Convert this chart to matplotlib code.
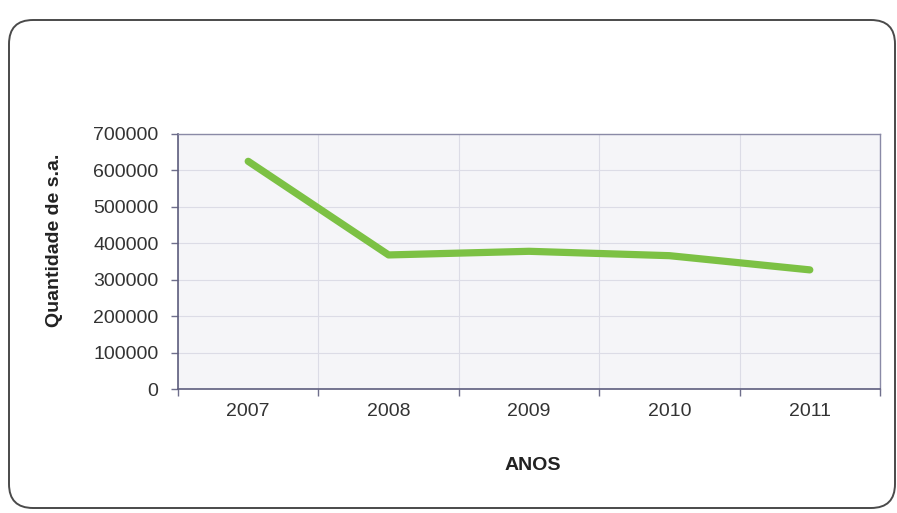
import matplotlib
matplotlib.use("Agg")
import matplotlib.pyplot as plt
import matplotlib.patches as mpatches
from matplotlib.transforms import IdentityTransform

# ── Dados ─────────────────────────────────────────────────────────────────────
anos       = ["2007", "2008", "2009", "2010", "2011"]
quantidade = [625000, 368000, 378000, 366000, 327000]
y_ticks    = [0, 100000, 200000, 300000, 400000, 500000, 600000, 700000]
# ─────────────────────────────────────────────────────────────────────────────

plt.rcParams["font.family"] = ["Liberation Sans", "DejaVu Sans"]

W, H = 897, 513
fig = plt.figure(figsize=(W / 100, H / 100), dpi=100)
fig.patch.set_facecolor("white")

# moldura arredondada em volta do gráfico (coordenadas em pixels)
frame = mpatches.FancyBboxPatch(
    (9, 5), 886, H - 20 - 5,
    boxstyle="round,pad=0,rounding_size=24",
    transform=IdentityTransform(),
    facecolor="none", edgecolor="#4a4a4a", linewidth=1.4,
)
fig.patches.append(frame)

ax = fig.add_axes([178 / W, 1 - 389 / H, (880 - 178) / W, (389 - 134) / H])
ax.set_facecolor("#f5f5f8")

x = list(range(len(anos)))
ax.plot(x, quantidade, color="#7cc144", linewidth=5.2, solid_capstyle="round",
        solid_joinstyle="round", zorder=3)

ax.set_xlim(-0.5, len(anos) - 0.5)
ax.set_ylim(0, 700000)
ax.set_yticks(y_ticks)
ax.set_yticklabels([str(v) for v in y_ticks])
ax.set_xticks(x)
ax.set_xticklabels(anos)
ax.set_xticks([i - 0.5 for i in range(len(anos) + 1)], minor=True)

ax.tick_params(axis="x", which="major", length=0, pad=10, labelsize=14,
               labelcolor="#333333")
ax.tick_params(axis="x", which="minor", length=5, width=1, color="#6f6f8c")
ax.tick_params(axis="y", which="major", length=5, width=1, color="#6f6f8c",
               pad=9, labelsize=14, labelcolor="#333333")

ax.grid(True, axis="y", which="major", color="#dcdce6", linewidth=0.8)
ax.grid(True, axis="x", which="minor", color="#dcdce6", linewidth=0.8)
ax.set_axisbelow(True)

for side in ["left", "bottom"]:
    ax.spines[side].set_color("#5e5e7e")
    ax.spines[side].set_linewidth(1.2)
for side in ["top", "right"]:
    ax.spines[side].set_color("#8a8aa6")
    ax.spines[side].set_linewidth(1.0)

ax.set_xlabel("ANOS", fontsize=14, fontweight="bold", color="#222222")
ax.set_ylabel("Quantidade de s.a.", fontsize=14, fontweight="bold",
              color="#222222")
ax.xaxis.set_label_coords(0.506, -0.265)
ax.yaxis.set_label_coords(-0.164, 0.584)

fig.savefig("out.png", dpi=100)
